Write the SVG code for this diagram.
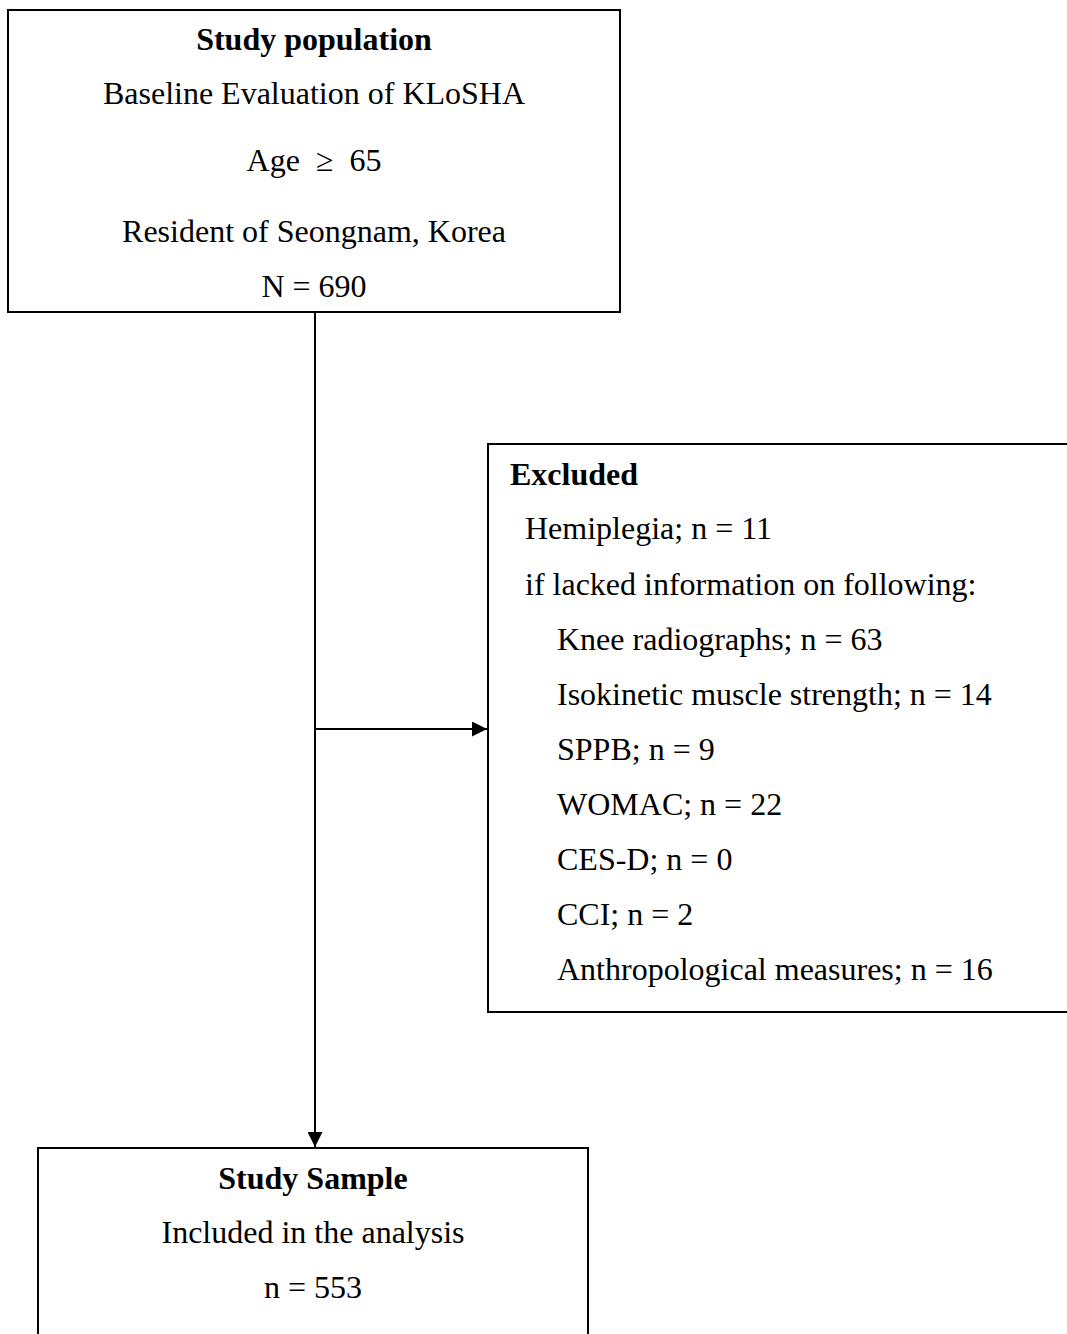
<svg xmlns="http://www.w3.org/2000/svg" width="1067" height="1334" viewBox="0 0 1067 1334">
<style>
.box{fill:#fff;stroke:#000;stroke-width:2}
.t{font-family:"Liberation Serif","Times New Roman",serif;font-size:32px;fill:#000}
.b{font-weight:bold}
.c{text-anchor:middle}
.ln{stroke:#000;stroke-width:2;fill:none}
</style>
<defs>
<marker id="ah" viewBox="0 0 10 10" refX="10" refY="5" markerWidth="7.5" markerHeight="7.5" markerUnits="strokeWidth" orient="auto">
<path d="M0,0 L10,5 L0,10 Z" fill="#000"/>
</marker>
</defs>
<rect width="1067" height="1334" fill="#fff"/>
<g id="connectors">
<line class="ln" x1="315" y1="312" x2="315" y2="1147" marker-end="url(#ah)"/>
<line class="ln" x1="315" y1="729" x2="487" y2="729" marker-end="url(#ah)"/>
</g>
<g id="study-population">
<rect class="box" x="8" y="10" width="612" height="302"/>
<text class="t b c" x="314" y="50">Study population</text>
<text class="t c" x="314" y="104">Baseline Evaluation of KLoSHA</text>
<text class="t c" x="314" y="171" xml:space="preserve">Age  ≥  65</text>
<text class="t c" x="314" y="242">Resident of Seongnam, Korea</text>
<text class="t c" x="314" y="297">N = 690</text>
</g>
<g id="excluded">
<rect class="box" x="488" y="444" width="590" height="568"/>
<text class="t b" x="510" y="485">Excluded</text>
<text class="t" x="525" y="539">Hemiplegia; n = 11</text>
<text class="t" x="525" y="595">if lacked information on following:</text>
<text class="t" x="557" y="650">Knee radiographs; n = 63</text>
<text class="t" x="557" y="705">Isokinetic muscle strength; n = 14</text>
<text class="t" x="557" y="760">SPPB; n = 9</text>
<text class="t" x="557" y="815">WOMAC; n = 22</text>
<text class="t" x="557" y="870">CES-D; n = 0</text>
<text class="t" x="557" y="925">CCI; n = 2</text>
<text class="t" x="557" y="980">Anthropological measures; n = 16</text>
</g>
<g id="study-sample">
<rect class="box" x="38" y="1148" width="550" height="200"/>
<text class="t b c" x="313" y="1189">Study Sample</text>
<text class="t c" x="313" y="1243">Included in the analysis</text>
<text class="t c" x="313" y="1298">n = 553</text>
</g>
</svg>
